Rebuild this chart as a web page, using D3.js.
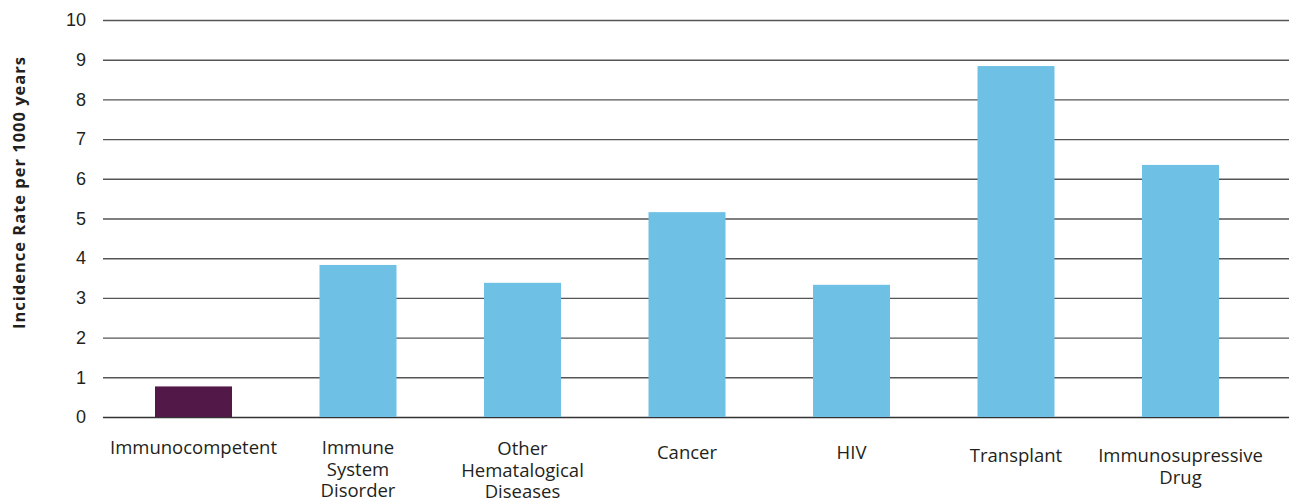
<!DOCTYPE html>
<html>
<head>
<meta charset="utf-8">
<script src="https://cdn.jsdelivr.net/npm/d3@7"></script>
<style>
  html, body { margin: 0; padding: 0; background: #fff; }
  svg { display: block; font-family: "Open Sans", "Noto Sans", sans-serif; }
</style>
</head>
<body>
<svg id="chart" width="1292" height="503"></svg>
<script>
// Incidence rate per 1000 person-years by immune status
const categories = [
  ["Immunocompetent"],
  ["Immune", "System", "Disorder"],
  ["Other", "Hematalogical", "Diseases"],
  ["Cancer"],
  ["HIV"],
  ["Transplant"],
  ["Immunosupressive", "Drug"]
];
const values = [0.77, 3.83, 3.38, 5.16, 3.33, 8.84, 6.35];
const groups = ["reference", "immunocompromised", "immunocompromised", "immunocompromised",
                "immunocompromised", "immunocompromised", "immunocompromised"];
const yTicks = [0, 1, 2, 3, 4, 5, 6, 7, 8, 9, 10];
const yTitle = "Incidence Rate per 1000 years";

// layout
const gridLeft = 103, gridRight = 1289;
const plotTop = 20, plotBottom = 417;
const labelBaseline = [454, 454, 455, 459, 459, 462, 462];
const lineStep = 21.5;

const colour = d3.scaleOrdinal()
  .domain(["reference", "immunocompromised"])
  .range(["#521848", "#6ec1e4"]);

const svg = d3.select("#chart");

const y = d3.scaleLinear().domain([0, 10]).range([plotBottom, plotTop]);
const x = d3.scaleBand()
  .domain(d3.range(categories.length))
  .range([111.25, 1262.75])
  .paddingInner(0.532)
  .paddingOuter(0.266);

// gridlines and value ticks
const yAxis = d3.axisLeft(y)
  .tickValues(yTicks)
  .tickFormat(d3.format("d"))
  .tickSizeInner(-(gridRight - gridLeft))
  .tickSizeOuter(0)
  .tickPadding(17);

const gy = svg.append("g")
  .attr("transform", `translate(${gridLeft},0)`)
  .call(yAxis);
gy.select(".domain").remove();
gy.selectAll(".tick line")
  .attr("stroke", d => d === 0 ? "#333" : "#555")
  .attr("stroke-width", 1.4);
gy.selectAll(".tick text")
  .attr("fill", "#231f20")
  .style("font-size", "18px");

// bars
svg.append("g")
  .selectAll("rect")
  .data(values)
  .join("rect")
  .attr("x", (d, i) => x(i))
  .attr("width", x.bandwidth())
  .attr("y", d => y(d))
  .attr("height", d => y(0) - y(d))
  .attr("fill", (d, i) => colour(groups[i]));

// category labels
const labels = svg.append("g")
  .selectAll("text")
  .data(categories)
  .join("text")
  .attr("x", (d, i) => x(i) + x.bandwidth() / 2)
  .attr("y", (d, i) => labelBaseline[i])
  .attr("text-anchor", "middle")
  .attr("fill", "#231f20")
  .style("font-size", "18.5px");
labels.selectAll("tspan")
  .data(d => d)
  .join("tspan")
  .attr("x", function () { return this.parentNode.getAttribute("x"); })
  .attr("dy", (d, i) => i === 0 ? 0 : lineStep)
  .text(d => d);

// y-axis title
svg.append("text")
  .attr("transform", "translate(24.5,193) rotate(-90)")
  .attr("text-anchor", "middle")
  .attr("textLength", 272)
  .attr("lengthAdjust", "spacing")
  .attr("fill", "#231f20")
  .style("font-size", "16.5px")
  .style("font-weight", "bold")
  .text(yTitle);
</script>
</body>
</html>
